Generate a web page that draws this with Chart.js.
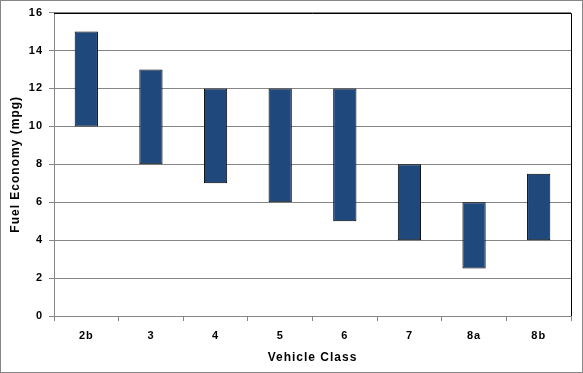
<!DOCTYPE html>
<html>
<head>
<meta charset="utf-8">
<script src="https://cdn.jsdelivr.net/npm/chart.js@4/dist/chart.umd.min.js"></script>
<style>
  html, body { margin: 0; padding: 0; background: #fff; }
  #wrap { width: 583px; height: 373px; }
</style>
</head>
<body>
<div id="wrap"><canvas id="fuelChart" width="583" height="373"></canvas></div>
<script>
// fuel economy range per vehicle class (mpg)
const vehicleClasses = ['2b', '3', '4', '5', '6', '7', '8a', '8b'];
const lowMpg = [10, 8, 7, 6, 5, 4, 2.5, 4];
const highMpg = [15, 13, 12, 12, 12, 8, 6, 7.5];

const GRID = '#868686';
const FONT = { family: 'Liberation Sans, Arial, sans-serif', size: 11, weight: 'bold' };

// outer frame + black top/right edge of the plot area
const frame = {
  id: 'frame',
  beforeDraw(chart) {
    chart.ctx.letterSpacing = '1px';
  },
  afterDraw(chart) {
    const { ctx, chartArea: a } = chart;
    ctx.letterSpacing = '0px';
    ctx.save();
    ctx.strokeStyle = GRID;
    ctx.lineWidth = 1;
    ctx.strokeRect(0.5, 0.5, chart.width - 1, chart.height - 1);
    ctx.strokeStyle = '#000';
    ctx.beginPath();
    ctx.moveTo(a.left, Math.round(a.top) + 0.5);
    ctx.lineTo(Math.round(a.right) + 0.5, Math.round(a.top) + 0.5);
    ctx.lineTo(Math.round(a.right) + 0.5, a.bottom);
    ctx.stroke();
    ctx.restore();
  }
};

new Chart(document.getElementById('fuelChart'), {
  type: 'bar',
  data: {
    labels: vehicleClasses,
    datasets: [{
      label: 'Fuel Economy',
      data: vehicleClasses.map((_, i) => [lowMpg[i], highMpg[i]]),
      backgroundColor: '#1f497d',
      borderColor: '#000',
      borderWidth: 1,
      borderSkipped: false,
      barPercentage: 0.36,
      categoryPercentage: 1
    }]
  },
  options: {
    responsive: false,
    animation: false,
    layout: { padding: { top: 12, right: 12, left: 0, bottom: 0 } },
    plugins: { legend: { display: false }, tooltip: { enabled: false } },
    scales: {
      x: {
        grid: { drawOnChartArea: false, color: GRID, tickLength: 5 },
        border: { color: GRID },
        ticks: { color: '#000', font: FONT, padding: 8 },
        title: { display: true, text: 'Vehicle Class', color: '#000', font: { ...FONT, size: 12 }, padding: { top: 4, bottom: 8 } },
        afterFit(scale) { scale.height = 57; }
      },
      y: {
        min: 0,
        max: 16,
        ticks: { stepSize: 2, color: '#000', font: FONT, padding: 6 },
        grid: { color: GRID, tickLength: 5 },
        border: { color: GRID },
        title: { display: true, text: 'Fuel Economy (mpg)', color: '#000', font: { ...FONT, size: 12 }, padding: { top: 8, bottom: 0 } },
        afterFit(scale) { scale.width = 54; }
      }
    }
  },
  plugins: [frame]
});
</script>
</body>
</html>
